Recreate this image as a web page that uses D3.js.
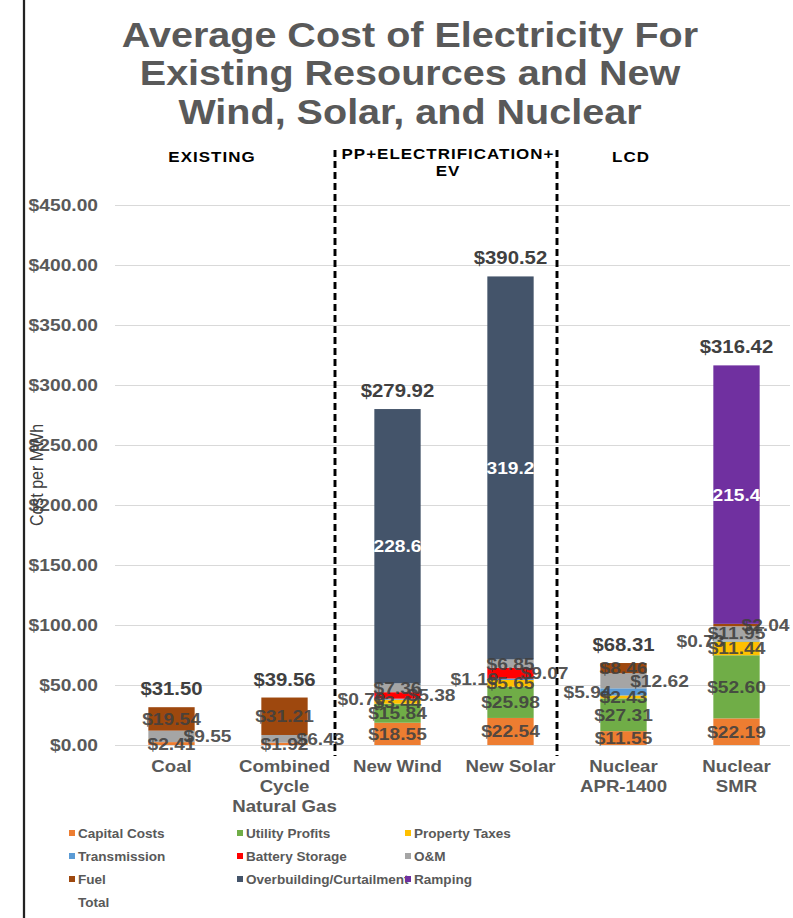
<!DOCTYPE html>
<html>
<head>
<meta charset="utf-8">
<script src="https://cdn.jsdelivr.net/npm/d3@7"></script>
<style>
  html, body { margin: 0; padding: 0; background: #fff; }
  svg { display: block; font-family: "Liberation Sans", Arial, sans-serif; }
</style>
</head>
<body>
<svg id="chart"></svg>
<script>
// ---------------- DATA ----------------
const categories = ["Coal", "Combined Cycle Natural Gas", "New Wind", "New Solar", "Nuclear APR-1400", "Nuclear SMR"];
const categoryLines = [["Coal"], ["Combined", "Cycle", "Natural Gas"], ["New Wind"], ["New Solar"], ["Nuclear", "APR-1400"], ["Nuclear", "SMR"]];
const seriesNames = ["Capital Costs", "Utility Profits", "Property Taxes", "Transmission", "Battery Storage", "O&M", "Fuel", "Overbuilding/Curtailment", "Ramping"];
const capitalCosts   = [2.41, 1.92, 18.55, 22.54, 11.55, 22.19];
const utilityProfits = [0, 0, 15.84, 25.98, 27.31, 52.60];
const propertyTaxes  = [0, 0, 3.44, 5.65, 2.43, 11.44];
const transmission   = [0, 0, 0.79, 1.19, 5.94, 0.73];
const batteryStorage = [0, 0, 5.38, 9.07, 0, 0];
const oAndM          = [9.55, 6.43, 7.36, 6.85, 12.62, 11.95];
const fuel           = [19.54, 31.21, 0, 0, 8.46, 2.04];
const overbuilding   = [0, 0, 228.6, 319.2, 0, 0];
const ramping        = [0, 0, 0, 0, 0, 215.4];
const totals         = [31.50, 39.56, 279.92, 390.52, 68.31, 316.42];
const yTickValues    = [0, 50, 100, 150, 200, 250, 300, 350, 400, 450];
const seriesColors   = ["#ED7D31", "#70AD47", "#FFC000", "#5B9BD5", "#FF0000", "#A5A5A5", "#9E480E", "#44546A", "#7030A0"];
const legendItems    = ["Capital Costs", "Utility Profits", "Property Taxes", "Transmission", "Battery Storage", "O&M", "Fuel", "Overbuilding/Curtailment", "Ramping", "Total"];
const seriesValues   = [capitalCosts, utilityProfits, propertyTaxes, transmission, batteryStorage, oAndM, fuel, overbuilding, ramping];

// ---------------- LAYOUT ----------------
const W = 793, H = 918;
const S = 1.13;                 // horizontal stretch of the reference
const IW = W / S;
const X = v => v / S;           // screen x -> internal x

const svg = d3.select("#chart")
  .attr("width", W).attr("height", H)
  .attr("viewBox", `0 0 ${IW} ${H}`)
  .attr("preserveAspectRatio", "none");

svg.append("rect").attr("width", IW).attr("height", H).attr("fill", "#fff");

// left frame line
svg.append("line").attr("x1", X(24)).attr("x2", X(24)).attr("y1", 0).attr("y2", H)
  .attr("stroke", "#222").attr("stroke-width", 2);

// title
const titleLines = ["Average Cost of Electricity For", "Existing Resources and New", "Wind, Solar, and Nuclear"];
svg.append("g").selectAll("text").data(titleLines).join("text")
  .attr("x", X(410)).attr("y", (d, i) => 47 + i * 38.5)
  .attr("text-anchor", "middle").attr("font-size", 35).attr("font-weight", "bold")
  .attr("fill", "#595959").text(d => d);

// scales
const x = d3.scaleBand().domain(categories).range([X(115), X(793)]).paddingInner(0.59).paddingOuter(0.295);
const y = d3.scaleLinear().domain([0, 450]).range([745, 205]);

// y axis with gridlines
const yAxis = svg.append("g").attr("transform", `translate(${X(115)},0)`)
  .call(d3.axisLeft(y).tickValues(yTickValues)
    .tickSize(-(X(790) - X(115))).tickPadding(X(17))
    .tickFormat(d => "$" + d3.format(".2f")(d)));
yAxis.select(".domain").remove();
yAxis.selectAll(".tick line").attr("stroke", "#d9d9d9").attr("stroke-width", 1);
yAxis.selectAll(".tick text").attr("font-size", 17).attr("font-weight", "bold")
  .attr("fill", "#595959").attr("font-family", "Liberation Sans, Arial, sans-serif");

// y axis title
svg.append("text").attr("transform", `translate(${X(43)},475) rotate(-90)`)
  .attr("text-anchor", "middle").attr("font-size", 16).attr("fill", "#404040")
  .text("Cost per MWh");

// dashed group box
[335, 557].forEach(px => {
  svg.append("line").attr("x1", X(px)).attr("x2", X(px)).attr("y1", 150).attr("y2", 756)
    .attr("stroke", "#000").attr("stroke-width", 2.6).attr("stroke-dasharray", "7,4");
});

// section labels
const secLabel = (px, py, txt) => svg.append("text").attr("x", X(px)).attr("y", py)
  .attr("text-anchor", "middle").attr("font-size", 15).attr("font-weight", "bold")
  .attr("letter-spacing", 0.9).attr("fill", "#000").text(txt);
secLabel(212, 162, "EXISTING");
svg.append("rect").attr("x", X(338)).attr("y", 146).attr("width", X(554) - X(338)).attr("height", 14).attr("fill", "#fff");
secLabel(448, 159, "PP+ELECTRIFICATION+");
secLabel(448, 176, "EV");
secLabel(631, 162, "LCD");

// stacked data
const rows = categories.map((c, i) => {
  const r = { category: c };
  seriesNames.forEach((s, k) => r[s] = seriesValues[k][i]);
  return r;
});
const stacked = d3.stack().keys(seriesNames)(rows);
const color = d3.scaleOrdinal().domain(seriesNames).range(seriesColors);

svg.append("g").selectAll("g").data(stacked).join("g")
  .attr("fill", d => color(d.key))
  .selectAll("rect").data(d => d.filter(p => p[1] - p[0] > 0)).join("rect")
  .attr("x", d => x(d.data.category))
  .attr("width", x.bandwidth())
  .attr("y", d => y(d[1]))
  .attr("height", d => y(d[0]) - y(d[1]));

// segment labels
const rightSet = new Set(["Coal|O&M", "Combined Cycle Natural Gas|O&M", "Nuclear APR-1400|O&M", "Nuclear SMR|Fuel"]);
const labelDx = (cat, key) => {
  if (key === "Transmission") return -36;
  if (key === "Battery Storage") return 34;
  if (cat === "Nuclear SMR" && key === "Fuel") return 29;
  if (rightSet.has(cat + "|" + key)) return 36;
  return 0;
};
const segLabels = [];
stacked.forEach(s => s.forEach(p => {
  const v = p[1] - p[0];
  if (v <= 0) return;
  const white = s.key === "Overbuilding/Curtailment" || s.key === "Ramping";
  segLabels.push({
    cat: p.data.category, key: s.key, v, white,
    cy: (y(p[0]) + y(p[1])) / 2,
    text: white ? d3.format(".1f")(v) : "$" + d3.format(".2f")(v)
  });
}));
// draw non-centered labels first so centered ones lie on top like the reference
segLabels.sort((a, b) => Math.abs(labelDx(b.cat, b.key)) - Math.abs(labelDx(a.cat, a.key)));
svg.append("g").selectAll("text").data(segLabels).join("text")
  .attr("x", d => x(d.cat) + x.bandwidth() / 2 + X(labelDx(d.cat, d.key)))
  .attr("y", d => d.cy + 6)
  .attr("text-anchor", "middle").attr("font-size", 17).attr("font-weight", "bold")
  .attr("fill", d => d.white ? "#fff" : "#404040")
  .attr("fill-opacity", d => d.white ? 1 : 0.9)
  .text(d => d.text);

// total labels
svg.append("g").selectAll("text").data(categories).join("text")
  .attr("x", d => x(d) + x.bandwidth() / 2)
  .attr("y", (d, i) => y(totals[i]) - 12)
  .attr("text-anchor", "middle").attr("font-size", 18).attr("font-weight", "bold")
  .attr("fill", "#404040")
  .text((d, i) => "$" + d3.format(".2f")(totals[i]));

// x axis
const xAxis = svg.append("g").attr("transform", "translate(0,745)")
  .call(d3.axisBottom(x).tickSize(0).tickFormat(""));
xAxis.select(".domain").remove();
xAxis.selectAll(".tick").each(function (d, i) {
  const t = d3.select(this).append("text")
    .attr("text-anchor", "middle").attr("font-size", 16.5).attr("font-weight", "bold")
    .attr("fill", "#595959").attr("font-family", "Liberation Sans, Arial, sans-serif");
  categoryLines[i].forEach((ln, j) => {
    t.append("tspan").attr("x", 0).attr("y", 27 + j * 20).text(ln);
  });
});

// legend
const legCols = [69, 237, 405];
const legRows = [838, 861, 884, 907];
const leg = svg.append("g").selectAll("g").data(legendItems).join("g")
  .attr("transform", (d, i) => `translate(${X(legCols[i % 3])},${legRows[Math.floor(i / 3)]})`);
leg.filter(d => d !== "Total").append("rect")
  .attr("x", 0).attr("y", -8).attr("width", X(6)).attr("height", 6)
  .attr("fill", d => color(d));
leg.append("text").attr("x", X(9)).attr("y", 0)
  .attr("font-size", 12).attr("font-weight", "bold").attr("fill", "#595959")
  .text(d => d);
</script>
</body>
</html>
